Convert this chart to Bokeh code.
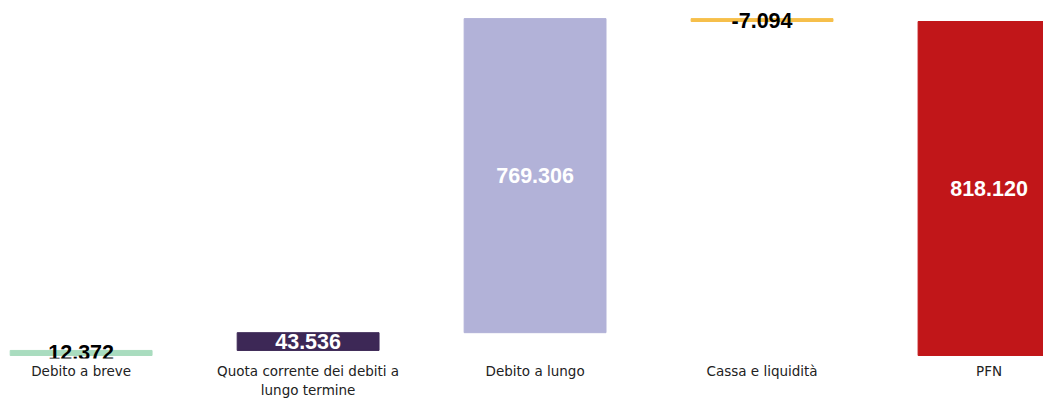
from bokeh.plotting import figure
from bokeh.models import ColumnDataSource, FixedTicker, Range1d
from bokeh.core.properties import value
from bokeh.embed import file_html
from bokeh.resources import INLINE

categories = ["Debito a breve", "Quota corrente dei debiti a\nlungo termine",
              "Debito a lungo", "Cassa e liquidità", "PFN"]
values = [12372, 43536, 769306, -7094, 818120]
is_total = [False, False, False, False, True]
colors = ["#a9dcbf", "#3d2856", "#b2b2d8", "#f6bf4b", "#c11619"]
text_colors = ["#000000", "#ffffff", "#ffffff", "#000000", "#ffffff"]

bottoms, tops = [], []
run = 0
for v, t in zip(values, is_total):
    if t:
        bottoms.append(0)
        tops.append(v)
    else:
        bottoms.append(run)
        run += v
        tops.append(run)

xs = list(range(len(categories)))
src = ColumnDataSource(dict(
    x=xs,
    bottom=[min(b, t) for b, t in zip(bottoms, tops)],
    top=[max(b, t) for b, t in zip(bottoms, tops)],
    mid=[(b + t) / 2 for b, t in zip(bottoms, tops)],
    color=colors,
    tcolor=text_colors,
    label=[f"{v:,}".replace(",", ".") for v in values],
))

p = figure(width=1043, height=400, output_backend="svg", toolbar_location=None,
           x_range=Range1d(-0.32, 4.24), y_range=Range1d(-7350, 850000),
           min_border_left=8, min_border_right=0, min_border_top=8, min_border_bottom=40)

p.vbar(x="x", bottom="bottom", top="top", width=0.625, color="color", source=src)
p.text(x="x", y="mid", text="label", text_color="tcolor", source=src,
       text_align="center", text_baseline="middle",
       text_font=value("Liberation Sans"), text_font_style="bold", text_font_size="21.5px")

p.xaxis.ticker = FixedTicker(ticks=xs)
p.xaxis.major_label_overrides = {i: c for i, c in enumerate(categories)}
p.xaxis.axis_line_color = None
p.xaxis.major_tick_line_color = None
p.xaxis.minor_tick_line_color = None
p.xaxis.major_tick_out = 0
p.xaxis.major_tick_in = 0
p.xaxis.major_label_standoff = 4
p.xaxis.major_label_text_font = "DejaVu Sans"
p.xaxis.major_label_text_font_size = "13.5px"
p.xaxis.major_label_text_color = "#222222"
p.yaxis.visible = False
p.xgrid.visible = False
p.ygrid.visible = False
p.outline_line_color = None

open("out.html", "w").write(file_html(p, INLINE))
